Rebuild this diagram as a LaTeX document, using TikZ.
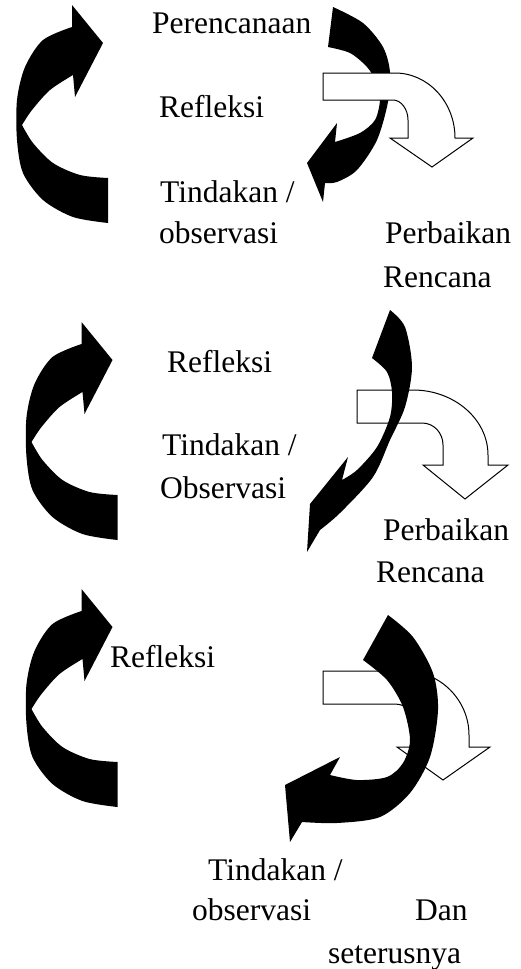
\documentclass[tikz,border=0pt]{standalone}
\usepackage{fontspec}
\setmainfont{Liberation Serif}
\begin{document}
\begin{tikzpicture}[x=1pt,y=-1pt,
  lbl/.style={anchor=base west,inner sep=0pt,font=\fontsize{31.5}{38}\selectfont},
  blk/.style={fill=black},
  wht/.style={draw=black,fill=white,line width=1pt,line join=miter}]
\useasboundingbox (0,0) rectangle (520,969);
\fill[white] (0,0) rectangle (520,969);

% ---------- left black curved arrows ----------
\tikzset{leftarrow/.pic={
  \fill[black] plot[smooth] coordinates {(108,178)(80,175)(53,163)(33,143)(22,125)}
    -- plot[smooth] coordinates {(22,125)(32,110)(50,90)(73,75)}
    -- (75,97) -- (103,43) -- (72,5)
    -- plot[smooth] coordinates {(72,27)(43,40)(25,67)(17,100)(17,140)(23,173)(43,200)(73,217)(108,223)}
    -- cycle;}}
\pic at (0,0) {leftarrow};
\pic at (9.5,317) {leftarrow};
\pic at (9.5,584) {leftarrow};

% ---------- top group: black under white ----------
\fill[blk] plot[smooth] coordinates {(328,47)(350,53)(367,67)(377,83)(380,100)(375,120)(360,133)(335,142)}
  -- (337,123) -- (307,163) -- (323,202)
  -- plot[smooth] coordinates {(325,183)(337,182)(357,170)(377,140)(388,102)(390,72)(383,47)(363,23)(333,7)}
  -- cycle;
\draw[wht] (323,73) -- (395,73) .. controls (428,73) and (455,102) .. (455,138)
  -- (473,138) -- (432,167) -- (390,138) -- (408,138) -- (408,120)
  .. controls (408,109) and (401,100) .. (393,100) -- (323,100) -- cycle;

% ---------- middle group: white under black ----------
\draw[wht] (357,390) -- (413,390) .. controls (454,390) and (488,419) .. (488,455)
  -- (488,465) -- (508,465) -- (465,499) -- (423,465) -- (443,465) -- (443,445)
  .. controls (443,433) and (434,423) .. (422,423) -- (357,423) -- cycle;
\fill[blk] plot[smooth] coordinates {(372,358)(387,372)(392,392)(390,417)(377,447)(357,470)(342,480)}
  -- (348,457) -- (310,504) -- (307,552)
  -- plot[smooth] coordinates {(320,530)(340,513)(373,477)(390,440)(405,407)(412,367)(405,327)(390,310)}
  -- cycle;

% ---------- bottom group: white under black ----------
\draw[wht] (323,671) -- (405,671) .. controls (440,671) and (469,700) .. (469,735)
  -- (469,747) -- (490,747) -- (443,780) -- (397,747) -- (418,747) -- (418,730)
  .. controls (418,716) and (408,704) .. (395,704) -- (323,704) -- cycle;
\fill[blk] plot[smooth] coordinates {(363,660)(387,680)(403,707)(410,740)(403,763)(387,777)(357,780)(330,775)}
  -- (340,757) -- (285,785) -- (290,842)
  -- plot[smooth] coordinates {(302,822)(337,823)(380,817)(410,793)(430,757)(438,710)(433,673)(413,637)(388,615)}
  -- cycle;

% ---------- labels ----------
\node[lbl] (p1) at (152,33) {Perencanaan};
\node[lbl] (r1) at (159,117) {Refleksi};
\node[lbl] (t1) at (160,202) {Tindakan /};
\node[lbl] (o1) at (159,243) {observasi};
\node[lbl] (pb1) at (385,243) {Perbaikan};
\node[lbl] (rc1) at (383,287) {Rencana};

\node[lbl] (r2) at (167,372) {Refleksi};
\node[lbl] (t2) at (162,455) {Tindakan /};
\node[lbl] (o2) at (160,498) {Observasi};
\node[lbl] (pb2) at (383,540) {Perbaikan};
\node[lbl] (rc2) at (376,582) {Rencana};

\node[lbl] (r3) at (110,667) {Refleksi};
\node[lbl] (t3) at (208,880) {Tindakan /};
\node[lbl] (o3) at (192,920) {observasi};
\node[lbl] (d3) at (415,920) {Dan};
\node[lbl] (s3) at (328,963) {seterusnya};
\end{tikzpicture}
\end{document}
